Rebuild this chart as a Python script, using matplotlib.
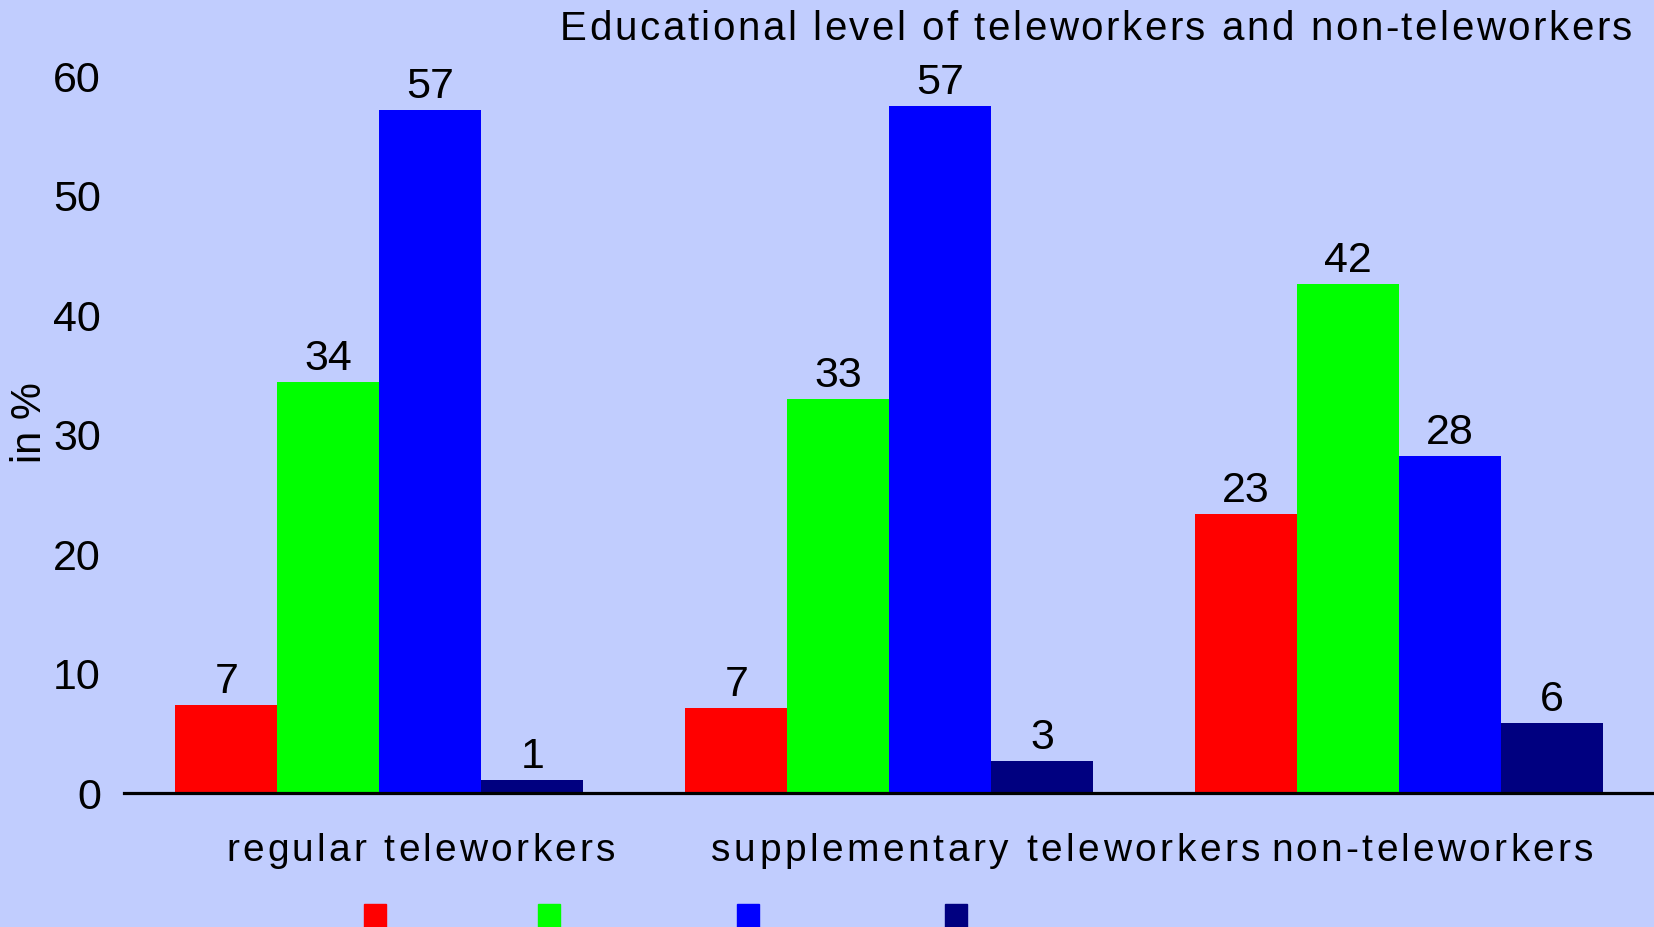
import matplotlib
matplotlib.use("Agg")
import matplotlib.pyplot as plt
import numpy as np
from matplotlib import font_manager
from matplotlib.patches import Rectangle

# ---- data ----
categories = ["regular teleworkers", "supplementary teleworkers", "non-teleworkers"]
series_names = ["low", "medium", "high", "other"]
low = [7.4, 7.1, 23.4]
medium = [34.4, 33.0, 42.6]
high = [57.2, 57.5, 28.2]
other = [1.1, 2.7, 5.9]
low_lbl = ["7", "7", "23"]
medium_lbl = ["34", "33", "42"]
high_lbl = ["57", "57", "28"]
other_lbl = ["1", "3", "6"]
yticks = [0, 10, 20, 30, 40, 50, 60]
title = "Educational level of teleworkers and non-teleworkers"
ylabel = "in %"

colors = ["#FF0000", "#00FF00", "#0000FF", "#000080"]
BG = "#C1CDFE"

names = {f.name for f in font_manager.fontManager.ttflist}
FONT = "Liberation Sans Narrow" if "Liberation Sans Narrow" in names else "Liberation Sans"

W, H = 1654, 927
fig = plt.figure(figsize=(W / 100, H / 100), dpi=100, facecolor=BG)
ax = fig.add_axes([124.5 / W, 1 - 793.2 / H, 1 - 124.5 / W, (793.2 - 76.2) / H])
ax.set_facecolor(BG)

x = np.arange(len(categories)) * 5.0
series = [low, medium, high, other]
labels = [low_lbl, medium_lbl, high_lbl, other_lbl]
offsets = [-1.5, -0.5, 0.5, 1.5]
for vals, lbls, off, c, nm in zip(series, labels, offsets, colors, series_names):
    bars = ax.bar(x + off, vals, width=1.0, color=c, label=nm, linewidth=0)
    for b, v, l in zip(bars, vals, lbls):
        ax.annotate(l, (b.get_x() + b.get_width() / 2, v), xytext=(0, 8.6),
                    textcoords="offset points", ha="center", va="baseline",
                    fontsize=31, family=FONT, annotation_clip=False)

ax.set_xlim(-2.5, 12.5)
ax.set_ylim(0, 60)
ax.set_yticks(yticks)
ax.set_yticklabels([str(t) for t in yticks], family=FONT)
ax.tick_params(axis="y", left=False, labelsize=31, pad=13.5)
ax.tick_params(axis="x", bottom=False, labelbottom=False)
for s in ["left", "top", "right"]:
    ax.spines[s].set_visible(False)
ax.spines["bottom"].set_linewidth(2.3)
ax.spines["bottom"].set_color("black")

renderer = fig.canvas.get_renderer()


def width_px(txt, size):
    t = fig.text(0, 0, txt, fontsize=size, family=FONT)
    bb = t.get_window_extent(renderer)
    t.remove()
    return bb.width


def spaced_text(x_left, baseline, s, target_w, size):
    natural = width_px(s, size)
    track = (target_w - natural) / (len(s) - 1)
    for i, ch in enumerate(s):
        if ch == " ":
            continue
        left = width_px(s[:i + 1], size) - width_px(ch, size)
        fig.text((x_left + left + i * track) / W, 1 - baseline / H, ch,
                 fontsize=size, family=FONT, ha="left", va="baseline")


spaced_text(560, 40, title, 1072, 29)
cat_left = [226, 711, 1271]
cat_width = [389, 549, 322]
for c, xl, w in zip(categories, cat_left, cat_width):
    spaced_text(xl, 861, c, w, 28)

fig.text(30 / W, 1 - 423 / H, ylabel, rotation=90, fontsize=30, family=FONT,
         ha="center", va="center")

leg_x = [364, 538, 737, 945]
for lx, c in zip(leg_x, colors):
    fig.patches.append(Rectangle((lx / W, 1 - 927 / H), 22 / W, 23 / H,
                                 transform=fig.transFigure, color=c, figure=fig))

fig.savefig("out.png", dpi=100, facecolor=BG)
